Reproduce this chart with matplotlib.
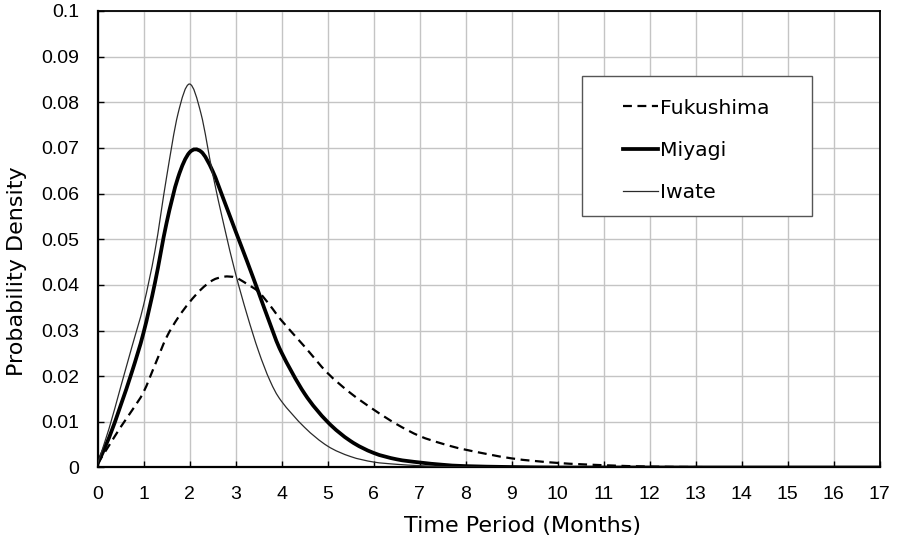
import numpy as np
import matplotlib.pyplot as plt
from matplotlib.patches import Rectangle, PathPatch
from matplotlib.path import Path
from matplotlib.lines import Line2D

# Estimated density curves by prefecture (time in months)
months = [0, 0.25, 0.5, 0.75, 1.0, 1.25, 1.5, 1.75, 2.0, 2.25, 2.5, 2.75,
          3.0, 3.25, 3.5, 3.75, 4.0, 4.5, 5.0, 5.5, 6.0, 6.5, 7.0, 7.5, 8,
          9, 10, 11, 12, 13, 14, 15, 16, 17]

fukushima = [0.0008, 0.0048, 0.0088, 0.0125, 0.0165, 0.0225, 0.0285, 0.0328,
             0.0362, 0.039, 0.041, 0.0418, 0.0416, 0.0402, 0.0385,
             0.0355, 0.0322, 0.0265, 0.0207, 0.0163, 0.0127, 0.0095, 0.0069,
             0.0052, 0.0039, 0.002, 0.001, 0.0005, 0.0002, 0.0001, 0.00003,
             0, 0, 0]

miyagi = [0.0008, 0.0065, 0.0135, 0.021, 0.0295, 0.0405, 0.0535, 0.0635,
          0.0690, 0.0692, 0.0650, 0.0585, 0.0518, 0.0452, 0.0384,
          0.0315, 0.0252, 0.0162, 0.0100, 0.0058, 0.0032, 0.0018, 0.0011,
          0.0006, 0.0003, 0.0001, 0, 0, 0, 0, 0, 0, 0, 0]

iwate = [0.0008, 0.0085, 0.0175, 0.0265, 0.0355, 0.0475, 0.0635, 0.0775,
         0.0840, 0.0775, 0.0645, 0.053, 0.0425, 0.0335, 0.0255,
         0.019, 0.0145, 0.0088, 0.0047, 0.0024, 0.0012, 0.0007, 0.0004,
         0.0002, 0.0001, 0, 0, 0, 0, 0, 0, 0, 0, 0]

x_ticks = np.arange(0, 18, 1)
y_ticks = np.round(np.arange(0, 0.1001, 0.01), 2)
y_labels = ['0'] + ['%.2f' % v for v in y_ticks[1:-1]] + ['0.1']


def smooth_path(xs, ys):
    # spreadsheet-style smoothed line: cubic Bezier segments through the points
    pts = np.column_stack([xs, ys]).astype(float)
    n = len(pts)
    verts = [pts[0]]
    codes = [Path.MOVETO]
    for i in range(n - 1):
        p0 = pts[max(i - 1, 0)]
        p1 = pts[i]
        p2 = pts[i + 1]
        p3 = pts[min(i + 2, n - 1)]
        verts += [p1 + (p2 - p0) / 6.0, p2 - (p3 - p1) / 6.0, p2]
        codes += [Path.CURVE4] * 3
    return Path(verts, codes)


fig = plt.figure(figsize=(8.97, 5.46), dpi=100)
ax = fig.add_axes([0.1087, 0.1438, 0.8718, 0.8361])

series = [
    ('Fukushima', fukushima, dict(color='black', lw=1.6, linestyle=(0, (4, 2.5)))),
    ('Miyagi', miyagi, dict(color='black', lw=2.7, linestyle='-')),
    ('Iwate', iwate, dict(color='#2a2a2a', lw=0.9, linestyle='-')),
]
handles = []
for z, (name, vals, style) in enumerate(series):
    ax.add_patch(PathPatch(smooth_path(months, vals), fill=False,
                           edgecolor=style['color'], lw=style['lw'],
                           linestyle=style['linestyle'], zorder=3 + z))
    handles.append(Line2D([], [], label=name, **style))

ax.set_xlim(0, 17)
ax.set_ylim(0, 0.1)
ax.set_xticks(x_ticks)
ax.set_yticks(y_ticks)
ax.set_yticklabels(y_labels)
ax.grid(True, color='#c4c4c4', lw=1.0)
ax.set_axisbelow(True)

ax.tick_params(axis='both', direction='in', length=4, width=1, colors='black',
               labelsize=14, labelfontfamily='Liberation Sans', pad=13)

for side in ['left', 'bottom']:
    ax.spines[side].set_linewidth(1.6)
for side in ['top', 'right']:
    ax.spines[side].set_linewidth(1.3)

ax.set_xlabel('Time Period (Months)', fontsize=16, family='DejaVu Sans')
ax.set_ylabel('Probability Density', fontsize=16, family='DejaVu Sans')
ax.xaxis.set_label_coords(0.544, -0.106)
ax.yaxis.set_label_coords(-0.09, 0.43)

# legend box drawn separately so its padding can differ from the text spacing
ax.add_patch(Rectangle((0.6196, 0.551), 0.2941, 0.3066, transform=ax.transAxes,
                       facecolor='white', edgecolor='#555555', lw=1.0, zorder=6))
leg = ax.legend(handles=handles, loc='center left', bbox_to_anchor=(0.672, 0.6944),
                frameon=False, borderpad=0, borderaxespad=0, handlelength=1.7,
                handletextpad=0.1, labelspacing=1.15,
                prop={'family': 'DejaVu Sans', 'size': 14.7})
leg.set_zorder(7)

fig.savefig('out.png', dpi=100)
